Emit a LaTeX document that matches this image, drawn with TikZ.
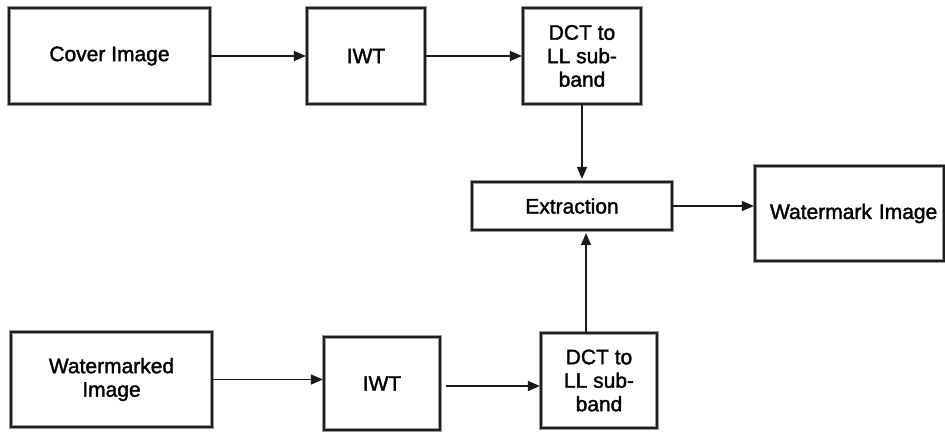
\documentclass[tikz,border=0pt]{standalone}
\usepackage{fontspec}
\setmainfont{Liberation Sans}
\newfontfamily\diafont{Liberation Sans}[FakeBold=1.6]
\usetikzlibrary{arrows.meta,calc}
\begin{document}
\begin{tikzpicture}[x=1pt,y=-1pt,
  blk/.style={rectangle, draw=black!88, line width=2.2pt, inner sep=2pt,
    align=center, font=\diafont\fontsize{21}{23.5}\selectfont,
    preaction={draw=black!40, line width=3.6pt}},
  conn/.style={line width=1.4pt, draw=black!90, -{Triangle[length=12pt,width=10pt]}}]
\useasboundingbox (0,0) rectangle (945,432);
\fill[white] (0,0) rectangle (945,432);
% top row
\node[blk, minimum width=201pt, minimum height=96pt] (cover) at (109.5,56) {Cover Image};
\node[blk, minimum width=118pt, minimum height=96pt] (iwta) at (366,56) {IWT};
\node[blk, minimum width=118pt, minimum height=96pt] (dcta) at (582,56) {DCT to\\LL sub-\\band};
% middle
\node[blk, minimum width=200pt, minimum height=48pt] (ext) at (572,206) {Extraction};
\node[blk, minimum width=189pt, minimum height=95pt, text width=175pt, align=left] (wm) at (849.5,213.5) {\hspace*{8pt}\raisebox{-2pt}{Watermark Image}};
% bottom row
\node[blk, minimum width=201pt, minimum height=95pt] (wmd) at (111.5,379.5) {Watermarked\\Image};
\node[blk, minimum width=116pt, minimum height=93pt] (iwtb) at (382,383.5) {IWT};
\node[blk, minimum width=116pt, minimum height=95pt] (dctb) at (599,380.5) {DCT to\\LL sub-\\band};
\coordinate (upa) at (582,150);
\coordinate (upb) at (586,300);
% connectors
\draw[conn] (cover.east) -- (iwta.west);
\draw[conn] (iwta.east) -- (dcta.west);
\draw[conn, shorten >=2pt] (dcta.south) -- (ext.north -| upa);
\draw[conn, shorten >=2pt] (dctb.north -| upb) -- (ext.south -| upb);
\draw[conn] (ext.east) -- (wm.west |- ext.east);
\draw[conn] (wmd.east) -- (iwtb.west |- wmd.east);
\draw[conn, shorten <=5pt] ($(iwtb.east)+(0,2.5)$) -- ($(dctb.west |- iwtb.east)+(0,2.5)$);
\end{tikzpicture}
\end{document}
